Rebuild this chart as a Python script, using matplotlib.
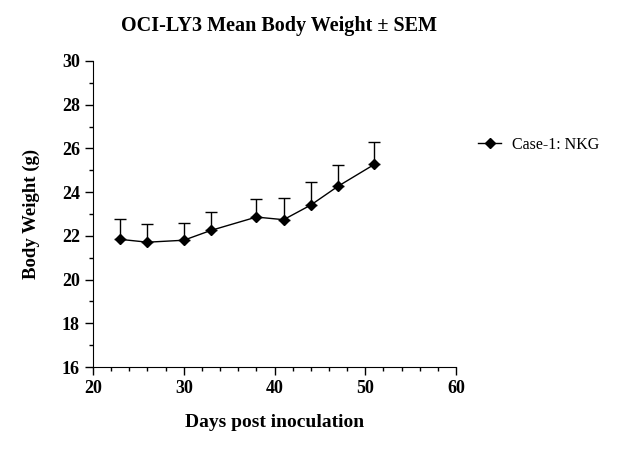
import numpy as np
import matplotlib
matplotlib.use("Agg")
from matplotlib import pyplot as plt
from matplotlib.lines import Line2D
from matplotlib.ticker import MultipleLocator

days = [23, 26, 30, 33, 38, 41, 44, 47, 51]
mean_weight = [21.84, 21.71, 21.80, 22.25, 22.86, 22.74, 23.41, 24.27, 25.27]
sem_weight = [0.92, 0.82, 0.78, 0.83, 0.81, 0.98, 1.04, 0.97, 1.01]
series_label = "Case-1: NKG"

plt.rcParams['font.family'] = ['Liberation Serif', 'DejaVu Serif']

fig = plt.figure(figsize=(6.18, 4.67), dpi=100)
ax = fig.add_axes([0.1505, 0.2141, 0.5874, 0.6553])

lower = np.zeros(len(sem_weight))
ax.errorbar(days, mean_weight, yerr=[lower, sem_weight], color='black',
            marker='D', markersize=5.5, linewidth=1, elinewidth=1,
            capsize=4, capthick=1)

ax.set_xlim(20, 60)
ax.set_ylim(16, 30)
ax.xaxis.set_major_locator(MultipleLocator(10))
ax.xaxis.set_minor_locator(MultipleLocator(2))
ax.yaxis.set_major_locator(MultipleLocator(2))
ax.yaxis.set_minor_locator(MultipleLocator(1))
ax.spines['top'].set_visible(False)
ax.spines['right'].set_visible(False)
ax.tick_params(which='major', length=6, width=1, labelsize=13)
ax.tick_params(which='minor', length=3, width=1)
for lab in ax.get_xticklabels() + ax.get_yticklabels():
    lab.set_fontweight('bold')

ax.set_xlabel('Days post inoculation', fontsize=14, fontweight='bold', labelpad=12)
ax.set_ylabel('Body Weight (g)', fontsize=13.5, fontweight='bold', labelpad=16)
fig.text(0.4515, 0.945, 'OCI-LY3 Mean Body Weight \u00b1 SEM', ha='center', va='center',
         fontsize=14.5, fontweight='bold')

handle = Line2D([], [], color='black', marker='D', markersize=5.5, linewidth=1)
ax.legend([handle], [series_label], loc='center left', bbox_to_anchor=(0.7735, 0.6895),
          bbox_transform=fig.transFigure, frameon=False, fontsize=11.5,
          borderpad=0, borderaxespad=0, handlelength=1.45, handletextpad=0.7)

fig.savefig('out.png', dpi=100)
